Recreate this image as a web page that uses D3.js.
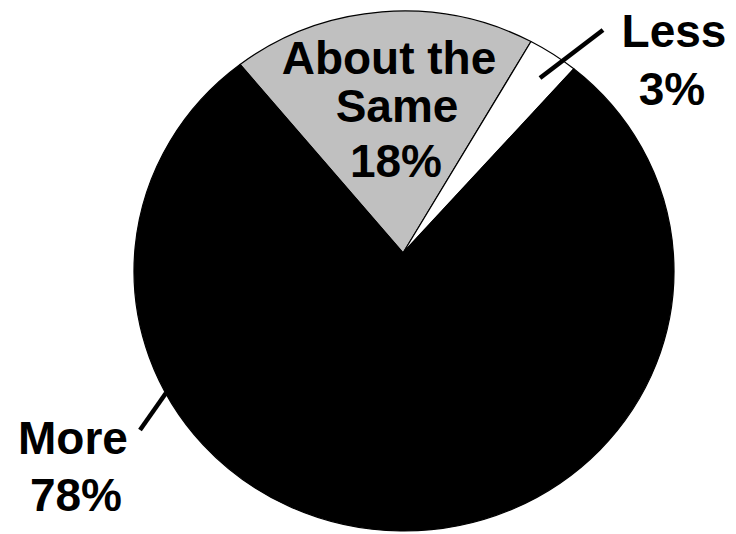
<!DOCTYPE html>
<html>
<head>
<meta charset="utf-8">
<script src="https://cdn.jsdelivr.net/npm/d3@7"></script>
<style>
  html, body { margin: 0; padding: 0; background: #fff; }
  text { font-family: "Liberation Sans", Arial, Helvetica, sans-serif; font-weight: bold; }
</style>
</head>
<body>
<div id="chart"></div>
<script>
// chart data
var categories = ['About the Same', 'Less', 'More'];
var values = [18, 3, 78];
var percentLabels = ['18%', '3%', '78%'];
var sliceColors = ['#c0c0c0', '#ffffff', '#000000'];

var width = 736, height = 534;

// the pie is drawn as a slightly wide ellipse; wedges meet a bit above its centre
var cx = 404, cy = 271, rx = 270, ry = 260;
var apex = [403, 253];
var startAngle = -37.4 * Math.PI / 180;

var svg = d3.select('#chart')
  .append('svg')
  .attr('width', width)
  .attr('height', height);

var pie = d3.pie()
  .sort(null)
  .startAngle(startAngle)
  .endAngle(startAngle + 2 * Math.PI);

var arcs = pie(values);

function edgePoint(a) {
  return [cx + rx * Math.sin(a), cy - ry * Math.cos(a)];
}

function wedgePath(d) {
  var p0 = edgePoint(d.startAngle);
  var p1 = edgePoint(d.endAngle);
  var large = (d.endAngle - d.startAngle) > Math.PI ? 1 : 0;
  return 'M' + apex[0] + ',' + apex[1] +
    'L' + p0[0] + ',' + p0[1] +
    'A' + rx + ',' + ry + ' 0 ' + large + ' 1 ' + p1[0] + ',' + p1[1] + 'Z';
}

svg.selectAll('path.slice')
  .data(arcs)
  .enter()
  .append('path')
  .attr('class', 'slice')
  .attr('d', wedgePath)
  .style('fill', function(d, i) { return sliceColors[i]; })
  .style('stroke', '#000')
  .style('stroke-width', 1.2)
  .style('stroke-linejoin', 'round');

// leader lines for the outside labels
var leaders = [
  null,
  [[540, 78], [603, 30]],
  [[166, 393], [140, 430]]
];

svg.selectAll('line.leader')
  .data(leaders.filter(function(d) { return d; }))
  .enter()
  .append('line')
  .attr('class', 'leader')
  .attr('x1', function(d) { return d[0][0]; })
  .attr('y1', function(d) { return d[0][1]; })
  .attr('x2', function(d) { return d[1][0]; })
  .attr('y2', function(d) { return d[1][1]; })
  .style('stroke', '#000')
  .style('stroke-width', 4.5);

// label blocks: lines and where they sit
var labelLines = [
  ['About the', 'Same', percentLabels[0]],
  [categories[1], percentLabels[1]],
  [categories[2], percentLabels[2]]
];
var labelPos = [
  { x: [389, 397, 396], y: [74, 122, 177] },
  { x: [674, 672], y: [47, 105] },
  { x: [73, 76], y: [454, 511] }
];

labelLines.forEach(function(lines, i) {
  lines.forEach(function(t, j) {
    svg.append('text')
      .attr('x', labelPos[i].x[j])
      .attr('y', labelPos[i].y[j])
      .attr('text-anchor', 'middle')
      .style('font-size', '46px')
      .style('fill', '#000')
      .text(t);
  });
});
</script>
</body>
</html>
